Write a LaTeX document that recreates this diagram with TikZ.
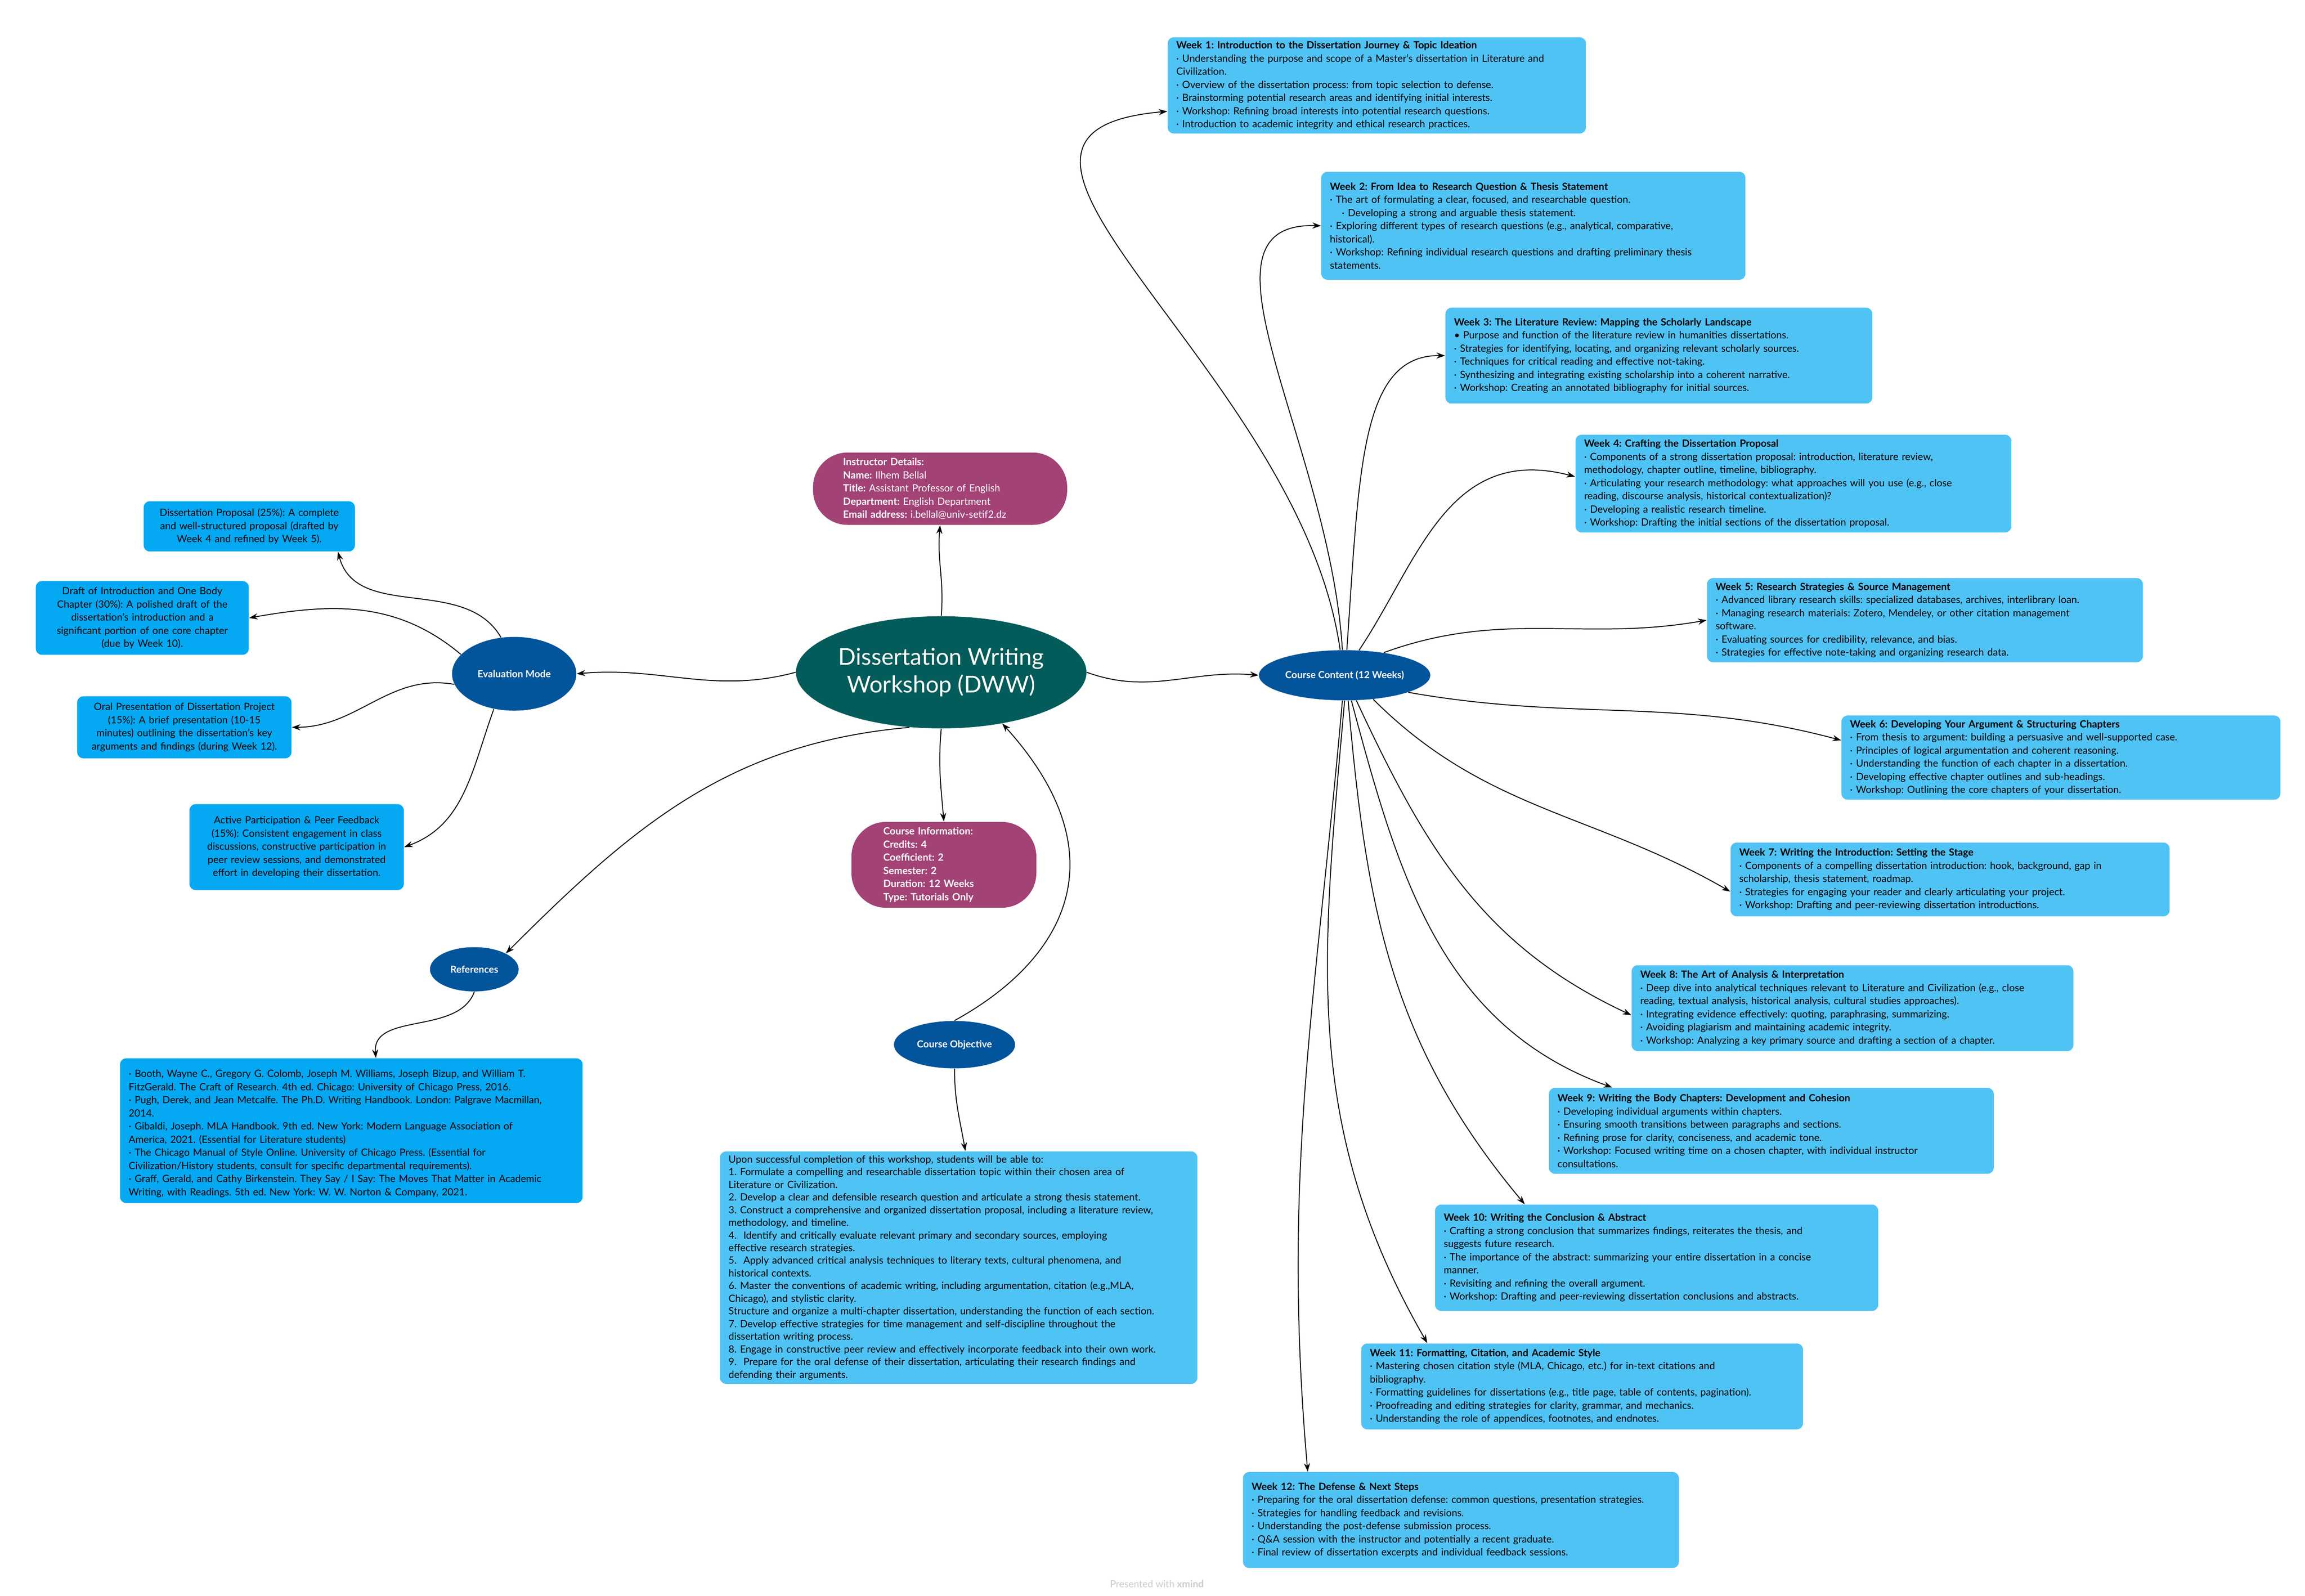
\documentclass[tikz,border=0pt]{standalone}
\usepackage{fontspec}
\setmainfont{Lato}
\frenchspacing
\usetikzlibrary{arrows.meta,shapes.geometric,positioning}
\definecolor{weekblue}{HTML}{50C3F5}
\definecolor{evalblue}{HTML}{05A8F2}
\definecolor{navy}{HTML}{02549B}
\definecolor{teal}{HTML}{035C5A}
\definecolor{plum}{HTML}{A34275}

\begin{document}
\begin{tikzpicture}[
        x=0.04268cm, y=-0.04268cm,
        every path/.style={semithick},
        arr/.style={-{Stealth[length=7pt,width=5pt]}, line width=0.75pt},
        week/.style={anchor=north west, fill=weekblue, rounded corners=5pt, align=left, inner xsep=0.25cm,
            font=\fontsize{8.2}{10.8}\selectfont},
        evbox/.style={anchor=north west, fill=evalblue, rounded corners=5pt, align=center, inner xsep=0.25cm,
            font=\fontsize{8.2}{10.8}\selectfont},
        topic/.style={ellipse, fill=navy, text=white, inner sep=0pt, font=\fontsize{8}{10}\selectfont\bfseries},
        info/.style={anchor=north west, fill=plum, text=white, rounded corners=1cm, align=left,
            font=\fontsize{8.2}{10.8}\selectfont}
    ]
  \useasboundingbox (0,0) rectangle (1560,1080);

  % Nodes
  \node (dww) [ellipse, fill=teal, text=white, minimum width=7.94cm, minimum height=3.24cm, inner sep=0pt,
      align=center, font=\fontsize{19}{23}\selectfont] at (637,455) {Dissertation Writing\\Workshop (DWW)};
  \node (cc) [topic, minimum width=4.95cm, minimum height=1.45cm] at (910,457) {Course Content (12 Weeks)};
  \node (evalm) [topic, minimum width=3.59cm, minimum height=2.13cm] at (348,456) {Evaluation Mode};
  \node (refs) [topic, minimum width=2.56cm, minimum height=1.28cm] at (321,656) {References};
  \node (obj) [topic, minimum width=3.5cm, minimum height=1.37cm] at (646,707) {Course Objective};

  \node (instr) [info, minimum width=7.34cm, minimum height=2.09cm, text width=5.6cm, inner xsep=0.85cm] at (550,306)
      {\textbf{Instructor Details:}\\\textbf{Name:} Ilhem Bellal\\\textbf{Title:} Assistant Professor of English\\
       \textbf{Department:} English Department\\\textbf{Email address:} i.bellal@univ-setif2.dz};
  \node (cinfo) [info, minimum width=5.34cm, minimum height=2.48cm, text width=3.5cm, inner xsep=0.92cm,
      font=\fontsize{8.2}{10.8}\selectfont\bfseries] at (576,556)
      {Course Information:\\Credits: 4\\Coefficient: 2\\Semester: 2\\Duration: 12 Weeks\\Type: Tutorials Only};

  \node (w1) [week, text width=11.58cm, minimum height=2.77cm] at (790,25)
      {\textbf{Week 1: Introduction to the Dissertation Journey \& Topic Ideation}\\
       · Understanding the purpose and scope of a Master's dissertation in Literature and\\Civilization.\\
       · Overview of the dissertation process: from topic selection to defense.\\
       · Brainstorming potential research areas and identifying initial interests.\\
       · Workshop: Refining broad interests into potential research questions.\\
       · Introduction to academic integrity and ethical research practices.};
  \node (w2) [week, text width=11.75cm, minimum height=3.12cm] at (894,116)
      {\textbf{Week 2: From Idea to Research Question \& Thesis Statement}\\
       · The art of formulating a clear, focused, and researchable question.\\
       \hspace{1.2em}· Developing a strong and arguable thesis statement.\\
       · Exploring different types of research questions (e.g., analytical, comparative,\\historical).\\
       · Workshop: Refining individual research questions and drafting preliminary thesis\\statements.};
  \node (w3) [week, text width=11.83cm, minimum height=2.77cm] at (978,208)
      {\textbf{Week 3: The Literature Review: Mapping the Scholarly Landscape}\\
       • Purpose and function of the literature review in humanities dissertations.\\
       · Strategies for identifying, locating, and organizing relevant scholarly sources.\\
       · Techniques for critical reading and effective not-taking.\\
       · Synthesizing and integrating existing scholarship into a coherent narrative.\\
       · Workshop: Creating an annotated bibliography for initial sources.};
  \node (w4) [week, text width=12.09cm, minimum height=2.82cm] at (1066,294)
      {\textbf{Week 4: Crafting the Dissertation Proposal}\\
       · Components of a strong dissertation proposal: introduction, literature review,\\
       methodology, chapter outline, timeline, bibliography.\\
       · Articulating your research methodology: what approaches will you use (e.g., close\\
       reading, discourse analysis, historical contextualization)?\\
       · Developing a realistic research timeline.\\
       · Workshop: Drafting the initial sections of the dissertation proposal.};
  \node (w5) [week, text width=12.09cm, minimum height=2.43cm] at (1155,391)
      {\textbf{Week 5: Research Strategies \& Source Management}\\
       · Advanced library research skills: specialized databases, archives, interlibrary loan.\\
       · Managing research materials: Zotero, Mendeley, or other citation management\\software.\\
       · Evaluating sources for credibility, relevance, and bias.\\
       · Strategies for effective note-taking and organizing research data.};
  \node (w6) [week, text width=12.18cm, minimum height=2.43cm] at (1246,484)
      {\textbf{Week 6: Developing Your Argument \& Structuring Chapters}\\
       · From thesis to argument: building a persuasive and well-supported case.\\
       · Principles of logical argumentation and coherent reasoning.\\
       · Understanding the function of each chapter in a dissertation.\\
       · Developing effective chapter outlines and sub-headings.\\
       · Workshop: Outlining the core chapters of your dissertation.};
  \node (w7) [week, text width=12.18cm, minimum height=2.13cm] at (1171,570)
      {\textbf{Week 7: Writing the Introduction: Setting the Stage}\\
       · Components of a compelling dissertation introduction: hook, background, gap in\\
       scholarship, thesis statement, roadmap.\\
       · Strategies for engaging your reader and clearly articulating your project.\\
       · Workshop: Drafting and peer-reviewing dissertation introductions.};
  \node (w8) [week, text width=12.26cm, minimum height=2.48cm] at (1104,653)
      {\textbf{Week 8: The Art of Analysis \& Interpretation}\\
       · Deep dive into analytical techniques relevant to Literature and Civilization (e.g., close\\
       reading, textual analysis, historical analysis, cultural studies approaches).\\
       · Integrating evidence effectively: quoting, paraphrasing, summarizing.\\
       · Avoiding plagiarism and maintaining academic integrity.\\
       · Workshop: Analyzing a key primary source and drafting a section of a chapter.};
  \node (w9) [week, text width=12.35cm, minimum height=2.48cm] at (1048,736)
      {\textbf{Week 9: Writing the Body Chapters: Development and Cohesion}\\
       · Developing individual arguments within chapters.\\
       · Ensuring smooth transitions between paragraphs and sections.\\
       · Refining prose for clarity, conciseness, and academic tone.\\
       · Workshop: Focused writing time on a chosen chapter, with individual instructor\\consultations.};
  \node (w10) [week, text width=12.3cm, minimum height=3.07cm] at (971,815)
      {\textbf{Week 10: Writing the Conclusion \& Abstract}\\
       · Crafting a strong conclusion that summarizes findings, reiterates the thesis, and\\
       suggests future research.\\
       · The importance of the abstract: summarizing your entire dissertation in a concise\\manner.\\
       · Revisiting and refining the overall argument.\\
       · Workshop: Drafting and peer-reviewing dissertation conclusions and abstracts.};
  \node (w11) [week, text width=12.26cm, minimum height=2.48cm] at (921,909)
      {\textbf{Week 11: Formatting, Citation, and Academic Style}\\
       · Mastering chosen citation style (MLA, Chicago, etc.) for in-text citations and\\bibliography.\\
       · Formatting guidelines for dissertations (e.g., title page, table of contents, pagination).\\
       · Proofreading and editing strategies for clarity, grammar, and mechanics.\\
       · Understanding the role of appendices, footnotes, and endnotes.};
  \node (w12) [week, text width=12.09cm, minimum height=2.77cm] at (841,996)
      {\textbf{Week 12: The Defense \& Next Steps}\\
       · Preparing for the oral dissertation defense: common questions, presentation strategies.\\
       · Strategies for handling feedback and revisions.\\
       · Understanding the post-defense submission process.\\
       · Q\&A session with the instructor and potentially a recent graduate.\\
       · Final review of dissertation excerpts and individual feedback sessions.};

  \node (ev1) [evbox, text width=5.6cm, minimum height=1.45cm] at (97,339)
      {Dissertation Proposal (25\%): A complete\\and well-structured proposal (drafted by\\Week 4 and refined by Week 5).};
  \node (ev2) [evbox, text width=5.65cm, minimum height=2.13cm] at (24,393)
      {Draft of Introduction and One Body\\Chapter (30\%): A polished draft of the\\dissertation's introduction and a\\
       significant portion of one core chapter\\(due by Week 10).};
  \node (ev3) [evbox, text width=5.69cm, minimum height=1.79cm] at (52,471)
      {Oral Presentation of Dissertation Project\\(15\%): A brief presentation (10-15\\
       minutes) outlining the dissertation's key\\arguments and findings (during Week 12).};
  \node (ev4) [evbox, text width=5.69cm, minimum height=2.48cm] at (128,544)
      {Active Participation \& Peer Feedback\\(15\%): Consistent engagement in class\\
       discussions, constructive participation in\\peer review sessions, and demonstrated\\
       effort in developing their dissertation.};

  \node (refbox) [evbox, align=left, text width=12.86cm, minimum height=4.18cm] at (81,716)
      {\mbox{}\\
       · Booth, Wayne C., Gregory G. Colomb, Joseph M. Williams, Joseph Bizup, and William T.\\
       FitzGerald. The Craft of Research. 4th ed. Chicago: University of Chicago Press, 2016.\\
       · Pugh, Derek, and Jean Metcalfe. The Ph.D. Writing Handbook. London: Palgrave Macmillan,\\2014.\\
       · Gibaldi, Joseph. MLA Handbook. 9th ed. New York: Modern Language Association of\\
       America, 2021. (Essential for Literature students)\\
       · The Chicago Manual of Style Online. University of Chicago Press. (Essential for\\
       Civilization/History students, consult for specific departmental requirements).\\
       · Graff, Gerald, and Cathy Birkenstein. They Say / I Say: The Moves That Matter in Academic\\
       Writing, with Readings. 5th ed. New York: W. W. Norton \& Company, 2021.};

  \node (objbox) [week, text width=13.29cm, minimum height=6.57cm, font=\fontsize{8.2}{10.4}\selectfont] at (487,779)
      {Upon successful completion of this workshop, students will be able to:\\
       1. Formulate a compelling and researchable dissertation topic within their chosen area of\\
       Literature or Civilization.\\
       2. Develop a clear and defensible research question and articulate a strong thesis statement.\\
       3. Construct a comprehensive and organized dissertation proposal, including a literature review,\\
       methodology, and timeline.\\
       4.\ \ Identify and critically evaluate relevant primary and secondary sources, employing\\
       effective research strategies.\\
       5.\ \ Apply advanced critical analysis techniques to literary texts, cultural phenomena, and\\
       historical contexts.\\
       6. Master the conventions of academic writing, including argumentation, citation (e.g.,MLA,\\
       Chicago), and stylistic clarity.\\
       Structure and organize a multi-chapter dissertation, understanding the function of each section.\\
       7. Develop effective strategies for time management and self-discipline throughout the\\
       dissertation writing process.\\
       8. Engage in constructive peer review and effectively incorporate feedback into their own work.\\
       9.\ \ Prepare for the oral defense of their dissertation, articulating their research findings and\\
       defending their arguments.};

  \node (credit) [text=gray!40, font=\fontsize{8}{10}\selectfont] at (783,1072) {Presented with \textbf{xmind}};

  % Main branches
  \draw[arr] (dww.north) to[out=85,in=-95] (instr.south);
  \draw[arr] (dww.south) to[out=-95,in=95] (cinfo.north);
  \draw[arr] (dww.east) to[out=-20,in=175] (cc.west);
  \draw[arr] (dww.west) to[out=195,in=5] (evalm.east);
  \draw[arr] (dww.-120) to[out=185,in=45] (refs.north east);
  \draw[arr] (obj.north) .. controls (720,650) and (760,580) .. (dww.-40);
  \draw[arr] (refs.south) to[out=-110,in=95] ([xshift=7.4cm]refbox.north west);
  \draw[arr] (obj.south) to[out=-90,in=100] ([xshift=7.1cm]objbox.north west);

  % Evaluation
  \draw[arr] (evalm.110) to[out=120,in=-75] ([xshift=-0.5cm]ev1.south east);
  \draw[arr] (evalm.160) to[out=140,in=10] (ev2.east);
  \draw[arr] (evalm.190) to[out=170,in=0] (ev3.east);
  \draw[arr] (evalm.240) to[out=-110,in=20] (ev4.east);

  % Weeks
  \draw[arr] (cc.100) .. controls (880,250) and (620,90) .. ([yshift=-0.75cm]w1.west);
  \draw[arr] (cc.95) .. controls (900,300) and (800,150) .. (w2.west);
  \draw[arr] (cc.85) .. controls (920,320) and (920,240) .. (w3.west);
  \draw[arr] (cc.60) .. controls (960,380) and (980,300) .. ([yshift=0.2cm]w4.west);
  \draw[arr] (cc.30) to[out=20,in=190] (w5.west);
  \draw[arr] (cc.-15) to[out=-10,in=165] ([yshift=0.5cm]w6.west);
  \draw[arr] (cc.-40) to[out=-45,in=150] ([yshift=-0.35cm]w7.west);
  \draw[arr] (cc.-65) to[out=-65,in=155] ([yshift=-0.2cm]w8.west);
  \draw[arr] (cc.-75) to[out=-75,in=160] ([xshift=1.84cm]w9.north west);
  \draw[arr] (cc.-82) to[out=-85,in=130] ([xshift=2.6cm]w10.north west);
  \draw[arr] (cc.-90) to[out=-95,in=120] ([xshift=1.92cm]w11.north west);
  \draw[arr] (cc.-95) to[out=-95,in=95] ([xshift=1.88cm]w12.north west);
\end{tikzpicture}
\end{document}
